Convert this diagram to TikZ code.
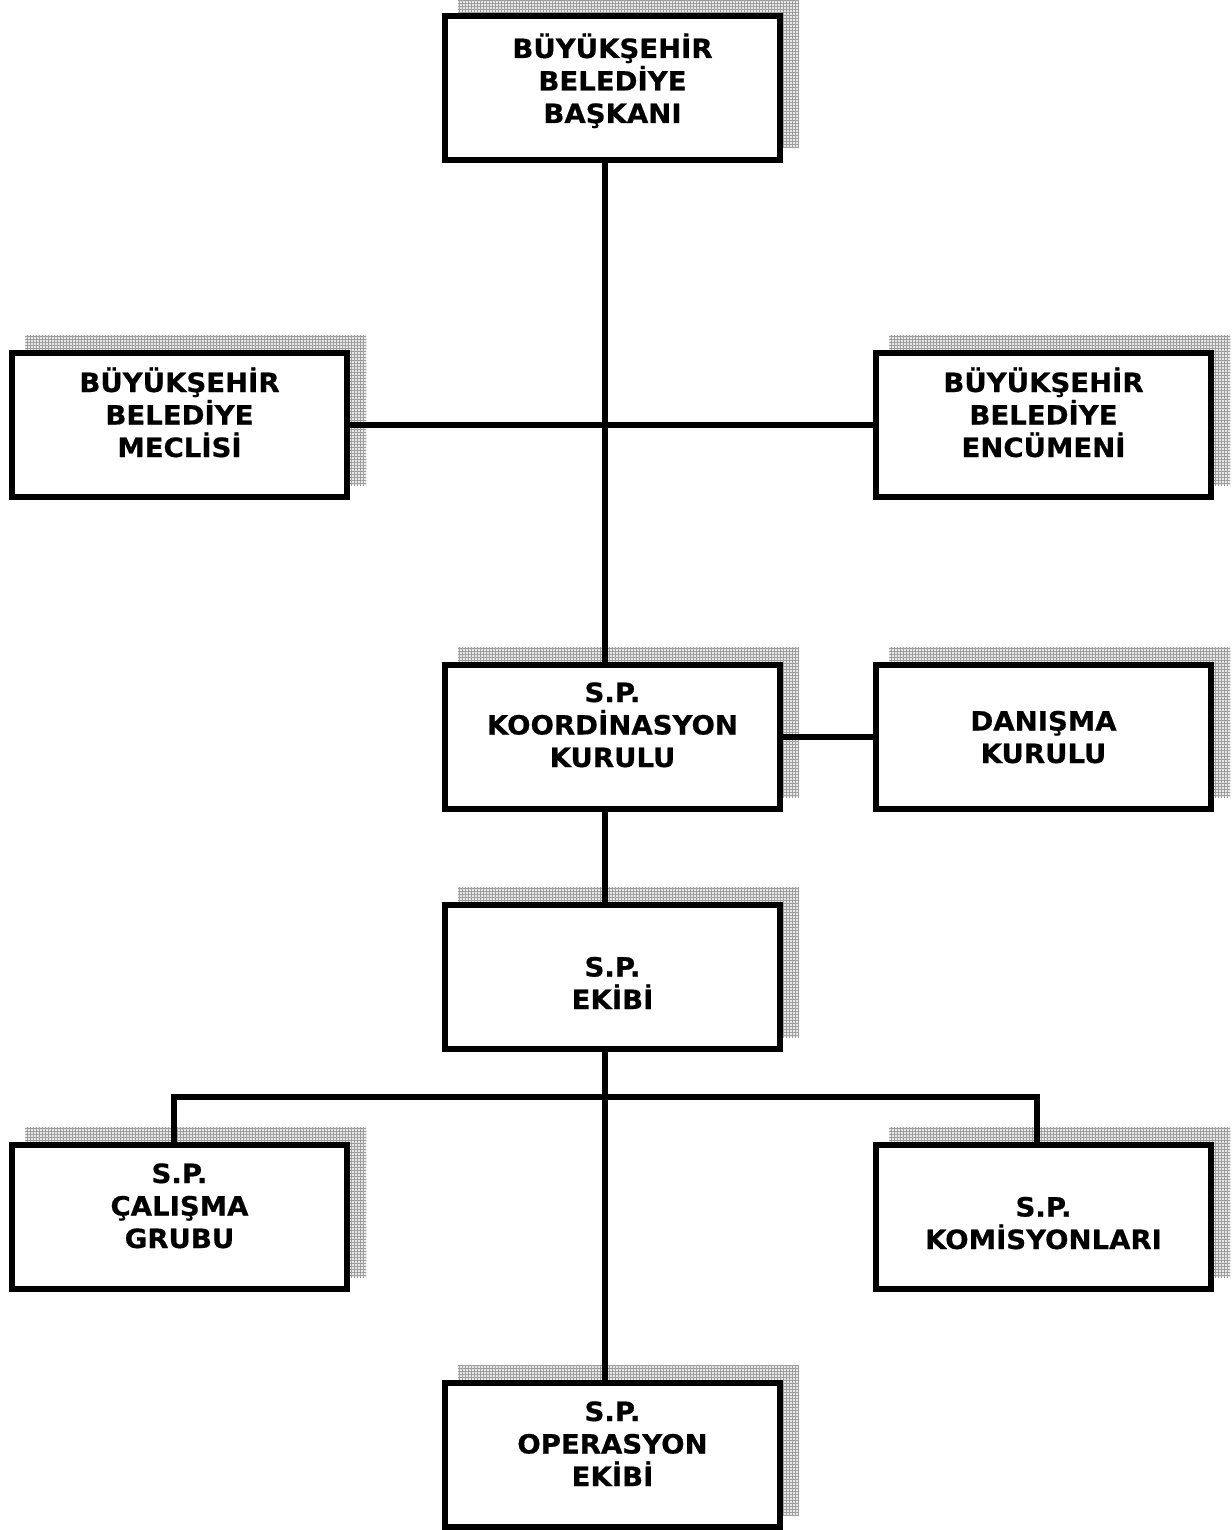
\documentclass[tikz,border=0pt]{standalone}
\usepackage{fontspec}
\setmainfont{DejaVu Sans}
\newfontfamily\orgfont{DejaVu Sans}[UprightFont={* Bold},FakeStretch=1.04,FakeBold=0.6]
\usetikzlibrary{patterns,backgrounds}
\begin{document}
\begin{tikzpicture}[x=1pt,y=-1pt,
  orgbox/.style={draw=black,line width=6pt,fill=white,minimum width=335pt,minimum height=144pt,inner sep=0pt},
  lbl/.style={align=center,inner sep=0pt,anchor=base,font=\fontsize{26.5}{32.5}\selectfont\orgfont},
  conn/.style={line width=6pt,draw=black}]
\useasboundingbox (0,0) rectangle (1231,1530);
\node[orgbox] (baskan) at (612.5,88) {};
\node[orgbox] (meclis) at (179.5,425) {};
\node[orgbox] (encumen) at (1043.5,425) {};
\node[orgbox] (koord) at (612.5,737) {};
\node[orgbox] (danisma) at (1043.5,737) {};
\node[orgbox] (ekip) at (612.5,977) {};
\node[orgbox] (calisma) at (179.5,1217) {};
\node[orgbox] (komis) at (1043.5,1217) {};
\node[orgbox] (oper) at (612.5,1455) {};
\node[lbl] (baskan-t) at ([yshift=-110pt]baskan.north) {BÜYÜKŞEHİR\\BELEDİYE\\BAŞKANI};
\node[lbl] (meclis-t) at ([yshift=-107pt]meclis.north) {BÜYÜKŞEHİR\\BELEDİYE\\MECLİSİ};
\node[lbl] (encumen-t) at ([yshift=-107pt]encumen.north) {BÜYÜKŞEHİR\\BELEDİYE\\ENCÜMENİ};
\node[lbl] (koord-t) at ([yshift=-105pt]koord.north) {S.P.\\KOORDİNASYON\\KURULU};
\node[lbl] (danisma-t) at ([yshift=-101pt]danisma.north) {DANIŞMA\\KURULU};
\node[lbl] (ekip-t) at ([yshift=-107pt]ekip.north) {S.P.\\EKİBİ};
\node[lbl] (calisma-t) at ([yshift=-106pt]calisma.north) {S.P.\\ÇALIŞMA\\GRUBU};
\node[lbl] (komis-t) at ([yshift=-107pt]komis.north) {S.P.\\KOMİSYONLARI};
\node[lbl] (oper-t) at ([yshift=-106pt]oper.north) {S.P.\\OPERASYON\\EKİBİ};
\coordinate (spine) at (605,0);
\coordinate (bl) at (173.5,1097);
\coordinate (brr) at (1036.5,1097);
\begin{scope}[on background layer]
  \foreach \b in {baskan,meclis,encumen,koord,danisma,ekip,calisma,komis,oper}{
    \fill[gray!18] ([xshift=16pt,yshift=15pt]\b.south west) rectangle ([xshift=16pt,yshift=15pt]\b.north east);
    \fill[pattern=grid,pattern color=gray!75] ([xshift=16pt,yshift=15pt]\b.south west) rectangle ([xshift=16pt,yshift=15pt]\b.north east);
  }
  \draw[conn] (baskan.south -| spine) -- (koord.north -| spine);
  \draw[conn] (meclis.east) -- (encumen.west);
  \draw[conn] (koord.east) -- (danisma.west);
  \draw[conn] (koord.south -| spine) -- (ekip.north -| spine);
  \draw[conn] (ekip.south -| spine) -- (oper.north -| spine);
  \draw[conn] (calisma.north -| bl) -- (bl) -- (brr) -- (komis.north -| brr);
\end{scope}
\end{tikzpicture}
\end{document}
